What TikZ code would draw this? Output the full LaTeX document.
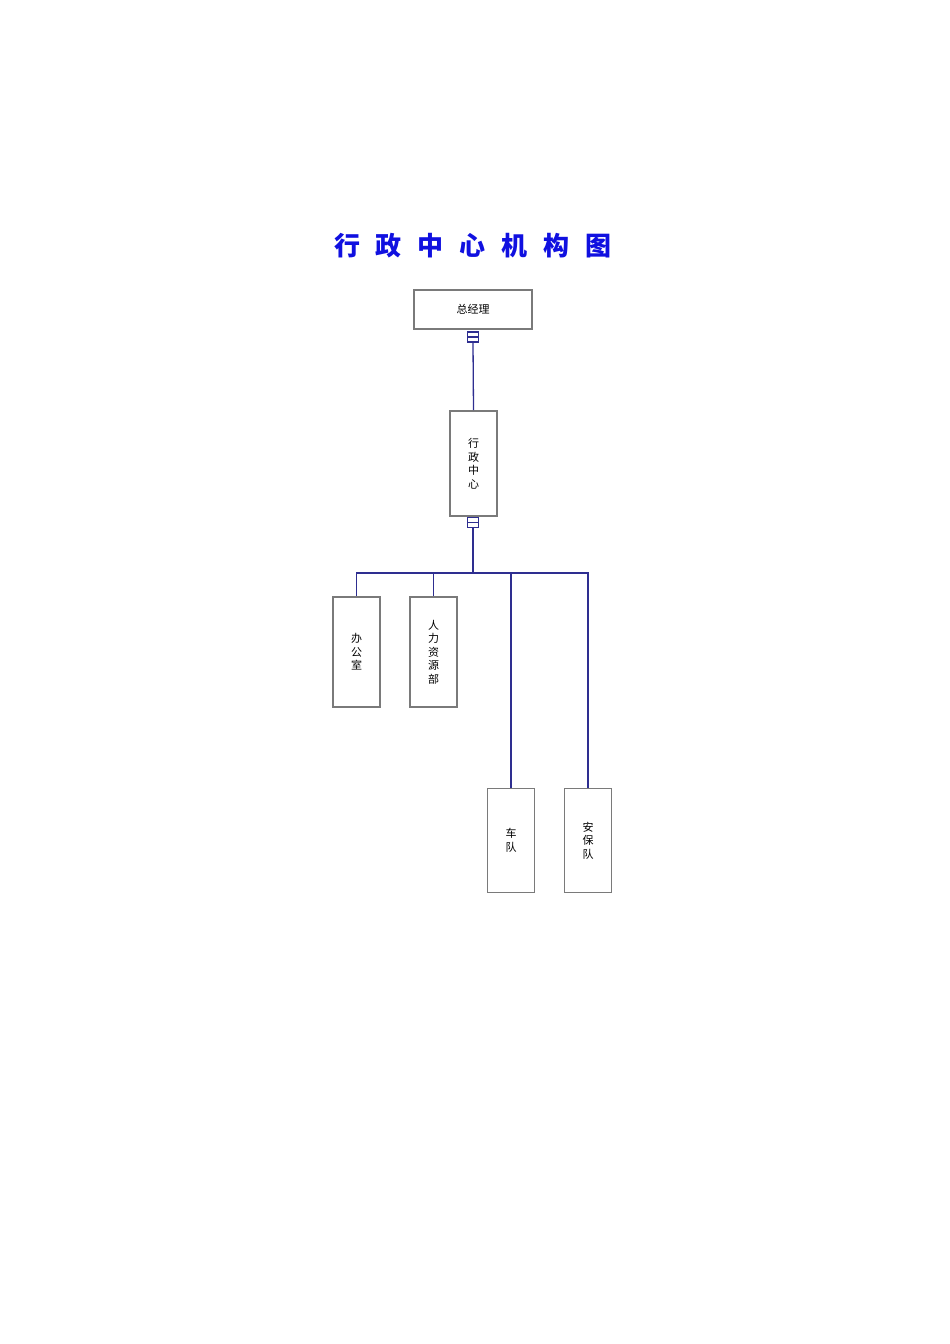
\documentclass[tikz,border=0pt]{standalone}
\usepackage{fontspec}
\newfontfamily\cjk{Noto Sans CJK SC}
\definecolor{navy}{HTML}{2E2E90}
\definecolor{boxgray}{HTML}{7A7A7A}
\definecolor{titleblue}{HTML}{1010E0}
\begin{document}
\begin{tikzpicture}[x=1pt,y=-1pt,
  orgbox/.style={draw=boxgray, line width=1.6pt, fill=white, inner sep=0pt,
    font=\cjk\fontsize{11}{13.5}\selectfont, align=center},
  conn/.style={draw=navy, line width=1.3pt},
  minusbox/.style={draw=navy, line width=1.1pt, fill=white, minimum width=11pt, minimum height=10pt, inner sep=0pt,
    path picture={\draw[navy, line width=1.1pt] (path picture bounding box.west) -- (path picture bounding box.east);}}
]
\useasboundingbox (0,0) rectangle (950,1344);
\node[font=\cjk\bfseries\fontsize{26}{26}\selectfont, text=titleblue] (title) at (473,246)
  {行\hspace{16pt}政\hspace{16pt}中\hspace{16pt}心\hspace{16pt}机\hspace{16pt}构\hspace{16pt}图};
\node[orgbox, minimum width=118pt, minimum height=39pt] (gm) at (473,309.5) {总经理};
\node[minusbox] (m1) at (473,337) {};
\node[orgbox, minimum width=47pt, minimum height=105pt] (xz) at (473.5,463.5) {行\\政\\中\\心};
\node[minusbox] (m2) at (473,522.5) {};
\coordinate (bus) at (473,573);
\node[orgbox, minimum width=47pt, minimum height=110pt] (bg) at (356.5,652) {办\\公\\室};
\node[orgbox, minimum width=47pt, minimum height=110pt] (rl) at (433.5,652) {人\\力\\资\\源\\部};
\node[orgbox, minimum width=47pt, minimum height=104pt] (cd) at (511,840.5) {车\\队};
\node[orgbox, minimum width=47pt, minimum height=104pt] (ab) at (588,840.5) {安\\保\\队};
\draw[conn] (m1.south) -- (xz.north);
\draw[conn] (m2.south) -- (bus);
\draw[conn] (bus) -| (bg.north);
\draw[conn] (bus) -| (rl.north);
\draw[conn] (bus) -| (cd.north);
\draw[conn] (bus) -| (ab.north);
\end{tikzpicture}
\end{document}
